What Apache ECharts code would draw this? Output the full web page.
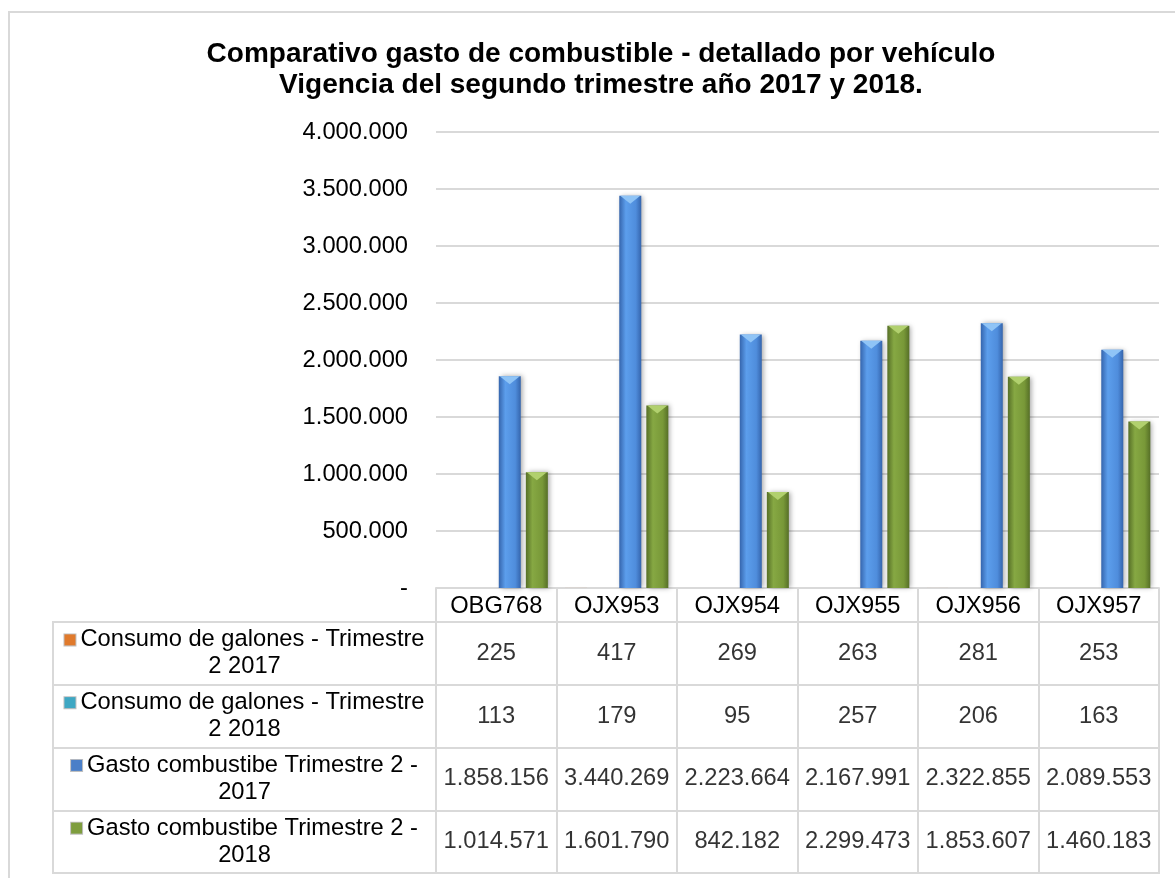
<!DOCTYPE html>
<html>
<head>
<meta charset="utf-8">
<script src="https://cdn.jsdelivr.net/npm/echarts@6/dist/echarts.min.js"></script>
<style>
  html, body { margin: 0; padding: 0; background: #fff; }
  #chart { width: 1175px; height: 878px; }
  #frame { position: absolute; left: 8px; top: 11px; width: 1200px; height: 900px;
           border: 2px solid #d9d9d9; pointer-events: none; }
</style>
</head>
<body>
<div id="chart"></div>
<div id="frame"></div>
<script>
const vehicles = ['OBG768', 'OJX953', 'OJX954', 'OJX955', 'OJX956', 'OJX957'];

const consumo2017 = [225, 417, 269, 263, 281, 253];
const consumo2018 = [113, 179, 95, 257, 206, 163];
const gasto2017 = [1858156, 3440269, 2223664, 2167991, 2322855, 2089553];
const gasto2018 = [1014571, 1601790, 842182, 2299473, 1853607, 1460183];

const seriesNames = [
  'Consumo de galones - Trimestre 2 2017',
  'Consumo de galones - Trimestre 2 2018',
  'Gasto combustibe Trimestre 2 - 2017',
  'Gasto combustibe Trimestre 2 - 2018'
];
// row labels of the data table, wrapped like the original
const rowLabels = [
  'Consumo de galones - Trimestre\n2 2017',
  'Consumo de galones - Trimestre\n2 2018',
  'Gasto combustibe Trimestre 2 -\n2017',
  'Gasto combustibe Trimestre 2 -\n2018'
];

const yMin = 0;
const yMax = 4000000;
const yStep = 500000;

const FONT = 'Liberation Sans, Arial, sans-serif';
const LINE = '#d9d9d9';
const keyColors = ['#e07a2c', '#3ea7c3', '#4a7fc8', '#7e9d3e'];
const bevelColors = ['#f7b27a', '#8ad6ea', '#8fc4f6', '#b1d06e'];

function fmt(v) {
  if (v === 0) return '-';
  return String(v).replace(/\B(?=(\d{3})+(?!\d))/g, '.');
}

function barStyle(edge, mid, light) {
  return {
    color: new echarts.graphic.LinearGradient(0, 0, 1, 0, [
      { offset: 0, color: edge },
      { offset: 0.3, color: light },
      { offset: 0.75, color: mid },
      { offset: 1, color: edge }
    ]),
    shadowColor: 'rgba(0, 0, 0, 0.35)',
    shadowBlur: 5,
    shadowOffsetX: 2
  };
}

const allValues = [consumo2017, consumo2018, gasto2017, gasto2018];
const cellData = [];
allValues.forEach((vals, r) => {
  vals.forEach((v, c) => cellData.push([c, r, v]));
});

const keyRich = {};
keyColors.forEach((c, i) => {
  keyRich['k' + i] = {
    width: 11, height: 11, backgroundColor: c,
    borderColor: 'rgba(0,0,0,0.25)', borderWidth: 1, verticalAlign: 'middle'
  };
});
keyRich.g = { width: 5 };

const barDefs = [
  ['#b85d18', '#e07a2c', '#f5a060'],
  ['#2b88a3', '#3ea7c3', '#6cc8e0'],
  ['#3565ad', '#4f8ddc', '#5c9eec'],
  ['#566f27', '#789838', '#86a843']
];

const barSeries = allValues.map((vals, i) => ({
  name: seriesNames[i], type: 'bar', xAxisIndex: 0, yAxisIndex: 0,
  data: vals, barWidth: 22, barGap: '23%',
  itemStyle: barStyle(barDefs[i][0], barDefs[i][1], barDefs[i][2])
}));

// light bevel cap on top of every bar (hidden where the bar is too short)
const bevelSeries = allValues.map((vals, i) => ({
  type: 'pictorialBar', xAxisIndex: 0, yAxisIndex: 0, silent: true,
  barWidth: 22, barGap: '23%', z: 3,
  symbol: 'triangle', symbolRotate: 180, symbolPosition: 'end',
  symbolSize: vals.map(() => [20, 8]),
  data: vals.map(v => ({ value: v, symbolSize: v > 100000 ? [20, 8] : [0, 0] })),
  itemStyle: { color: bevelColors[i] }
}));

const chart = echarts.init(document.getElementById('chart'));

const option = {
  animation: false,
  textStyle: { fontFamily: FONT },
  title: {
    text: 'Comparativo gasto de combustible - detallado por vehículo\nVigencia del segundo trimestre año 2017 y 2018.',
    left: 596,
    top: 34,
    textAlign: 'center',
    textStyle: {
      fontFamily: FONT, fontSize: 28, fontWeight: 'bold', color: '#000', lineHeight: 31
    }
  },
  grid: [
    { left: 436, right: 16, top: 132, bottom: 290 },
    { left: 436, right: 16, top: 622, bottom: 5, show: true, borderColor: LINE, borderWidth: 2 },
    { left: 53, width: 383, top: 622, bottom: 5, show: true, borderColor: LINE, borderWidth: 2 }
  ],
  xAxis: [
    {
      type: 'category', gridIndex: 0, data: vehicles,
      axisLine: { lineStyle: { color: LINE, width: 2 } },
      axisTick: { show: true, length: 34, interval: 0, lineStyle: { color: LINE, width: 2 } },
      axisLabel: { margin: 6, fontSize: 23.7, color: '#000', fontFamily: FONT }
    },
    {
      type: 'category', gridIndex: 1, data: vehicles,
      axisLine: { show: false }, axisTick: { show: false }, axisLabel: { show: false },
      splitLine: { show: true, interval: 0, lineStyle: { color: LINE, width: 2 } }
    },
    {
      type: 'category', gridIndex: 2, data: [''],
      axisLine: { show: false }, axisTick: { show: false }, axisLabel: { show: false }
    }
  ],
  yAxis: [
    {
      type: 'value', gridIndex: 0, min: yMin, max: yMax, interval: yStep,
      axisLine: { show: false }, axisTick: { show: false },
      axisLabel: { margin: 28, fontSize: 23.7, color: '#000', fontFamily: FONT, formatter: fmt },
      splitLine: { lineStyle: { color: LINE, width: 2 } }
    },
    {
      type: 'category', gridIndex: 1, data: rowLabels, inverse: true,
      axisLine: { show: false }, axisTick: { show: false }, axisLabel: { show: false },
      splitLine: { show: true, interval: 0, lineStyle: { color: LINE, width: 2 } }
    },
    {
      type: 'category', gridIndex: 2, data: rowLabels, inverse: true,
      axisLine: { show: false }, axisTick: { show: false },
      splitLine: { show: true, interval: 0, lineStyle: { color: LINE, width: 2 } },
      axisLabel: {
        inside: true, margin: 191.5, align: 'center', interval: 0,
        fontSize: 23.7, lineHeight: 27, color: '#000', fontFamily: FONT,
        formatter: (v, i) => {
          const parts = v.split('\n');
          return '{k' + i + '|}{g|}' + parts[0] + '\n' + parts[1];
        },
        rich: keyRich
      }
    }
  ],
  series: barSeries.concat(bevelSeries, [
    {
      type: 'scatter', xAxisIndex: 1, yAxisIndex: 1, silent: true,
      data: cellData, symbolSize: 0,
      label: {
        show: true, position: 'inside', fontSize: 23.7, color: '#000', fontFamily: FONT,
        formatter: p => fmt(p.value[2])
      }
    }
  ])
};

chart.setOption(option);
window.addEventListener('resize', () => chart.resize());
</script>
</body>
</html>
